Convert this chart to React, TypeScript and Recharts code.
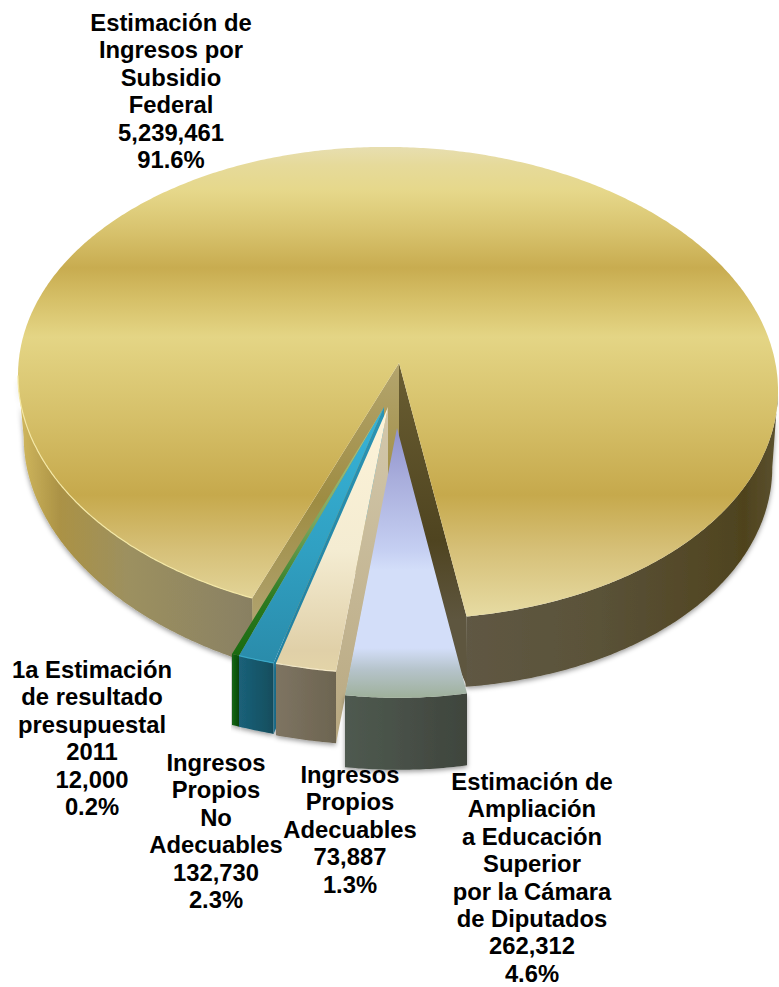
import React from "react";
import { PieChart, Pie } from "recharts";

// drawn counter-clockwise from the right side of the notch, so the front slices paint last
const names = [
  "Estimación de Ingresos por Subsidio Federal",
  "1a Estimación de resultado presupuestal 2011",
  "Ingresos Propios No Adecuables",
  "Ingresos Propios Adecuables",
  "Estimación de Ampliación a Educación Superior por la Cámara de Diputados",
];
const values = [5239461, 12000, 132730, 73887, 262312];
const percents = ["91.6%", "0.2%", "2.3%", "1.3%", "4.6%"];
const labelLines = [
  ["Estimación de", "Ingresos por", "Subsidio", "Federal"],
  ["1a Estimación", "de resultado", "presupuestal", "2011"],
  ["Ingresos", "Propios", "No", "Adecuables"],
  ["Ingresos", "Propios", "Adecuables"],
  ["Estimación de", "Ampliación", "a Educación", "Superior", "por la Cámara", "de Diputados"],
];

const data = names.map((name, i) => ({ name, value: values[i] }));

const CX = 398;
const CY = 383;
const RADIUS = 380;
const FONT = "'Liberation Sans', Arial, sans-serif";
const LINE_HEIGHT = 27.4;

// where each text block sits: centre x, first baseline
const labelPos = [
  { x: 171, y: 31 },
  { x: 92, y: 678 },
  { x: 216, y: 771 },
  { x: 350, y: 783 },
  { x: 532, y: 790 },
];

// fake 3D: every slice is the same sector squashed to an ellipse and pulled out a bit
const sliceStyle = [
  { dy: 0, sx: 1, sy: 0.621, ax: 1, ay: -20, depth: 69, apexDepth: 170, trimLo: 0, trimHi: -2.7, shear: 0.02, shearBottom: 0.04, bottomScale: 0.985, top: "goldTop", wall: "goldWall", wallLo: "goldInnerL", wallHi: "goldInnerR", rim: "#f4e8a6" },
  { dy: 69, sx: 1.053, sy: 0.584, ax: -14, ay: 24, depth: 71, apexDepth: 71, trimLo: 1.6, trimHi: 1.94, shear: 0, shearBottom: 0, bottomScale: 1, top: "greenTop", wall: "greenWall" },
  { dy: 69, sx: 1.053, sy: 0.584, ax: -14, ay: 24, depth: 71, apexDepth: 71, trimLo: 4.65, trimHi: 1.6, shear: 0, shearBottom: 0, bottomScale: 1, top: "tealTop", wall: "tealWall", wallLo: "tealInner", rim: "#38a8c8" },
  { dy: 69, sx: 1.053, sy: 0.584, ax: -10, ay: 24, depth: 72, apexDepth: 72, trimLo: 0.1, trimHi: 4.3, shear: 0, shearBottom: 0, bottomScale: 1, top: "creamTop", wall: "creamWall", wallLo: "creamInner", rim: "#f5e9c8" },
  { dy: 15, sx: 1.053, sy: 0.789, ax: -1, ay: 45, depth: 72, apexDepth: 72, trimLo: -2.23, trimHi: -1.2, shear: 0, shearBottom: 0, bottomScale: 1, top: "lavTop", wall: "lavWall" },
];

const gradients = [
  { id: "goldTop", axis: "y", from: 147, to: 618, stops: [[147, "#e7deb0"], [165, "#e6da9a"], [190, "#e6d88b"], [230, "#d8c36e"], [268, "#c8ac50"], [300, "#d6c068"], [337, "#e4d585"], [420, "#d5bf68"], [495, "#c6a94c"], [550, "#d6c078"], [618, "#e7dca4"]] },
  { id: "goldWall", axis: "x", from: 18, to: 779, stops: [[18, "#d2b95f"], [60, "#ab9245"], [130, "#9c9060"], [240, "#8b8263"], [440, "#605946"], [600, "#5a5238"], [745, "#4f431e"], [779, "#5c5230"]] },
  { id: "goldInnerL", axis: "y", from: 363, to: 670, stops: [[363, "#b4a56e"], [500, "#9e8c42"], [640, "#b3a675"]] },
  { id: "goldInnerR", axis: "y", from: 363, to: 685, stops: [[363, "#6a5e32"], [540, "#4f4420"], [620, "#5e563f"]] },
  { id: "greenTop", axis: "y", from: 407, to: 655, stops: [[407, "#b8c888"], [520, "#7aa860"], [600, "#2c7a20"], [655, "#1a6a10"]] },
  { id: "greenWall", axis: "x", from: 232, to: 240, stops: [[232, "#136313"], [240, "#0d500d"]] },
  { id: "tealTop", axis: "y", from: 407, to: 660, stops: [[407, "#37b4d8"], [550, "#30a0c2"], [660, "#2a8cab"]] },
  { id: "tealWall", axis: "x", from: 240, to: 273, stops: [[240, "#1a6078"], [273, "#154e5e"]] },
  { id: "tealInner", axis: "y", from: 407, to: 733, stops: [[407, "#2a94b4"], [733, "#1f7a9b"]] },
  { id: "creamTop", axis: "y", from: 407, to: 671, stops: [[407, "#fdf3d8"], [550, "#f4ecd2"], [650, "#e0d0a8"], [671, "#e3d4a8"]] },
  { id: "creamWall", axis: "x", from: 276, to: 337, stops: [[276, "#7e7462"], [337, "#6c6450"]] },
  { id: "creamInner", axis: "y", from: 407, to: 743, stops: [[407, "#d3c8ac"], [743, "#b8a880"]] },
  { id: "lavTop", axis: "y", from: 428, to: 698, stops: [[428, "#8f92cc"], [480, "#a9aedc"], [550, "#c5cff2"], [570, "#d3def9"], [648, "#d3def9"], [670, "#b5c3ca"], [698, "#9eb09a"]] },
  { id: "lavWall", axis: "x", from: 345, to: 467, stops: [[345, "#4f5a50"], [467, "#3f453d"]] },
];

const rad = (d: number) => (d * Math.PI) / 180;

// c is a clock angle: 0 at the top, growing clockwise
function ringPoints(cx: number, cy: number, rx: number, ry: number, shear: number, lo: number, hi: number) {
  const pts: string[] = [];
  const n = Math.max(2, Math.ceil((hi - lo) * 2));
  for (let i = 0; i <= n; i++) {
    const c = lo + ((hi - lo) * i) / n;
    const dx = rx * Math.sin(rad(c));
    pts.push(`${(cx + dx).toFixed(1)},${(cy - ry * Math.cos(rad(c)) + shear * dx).toFixed(1)}`);
  }
  return pts;
}

// parts of [lo, hi] on the near side of the ellipse
function frontRanges(lo: number, hi: number) {
  const out: [number, number][] = [];
  for (const k of [-720, -360, 0, 360]) {
    const a = Math.max(lo, 90 + k);
    const b = Math.min(hi, 270 + k);
    if (b > a) out.push([a, b]);
  }
  return out;
}

function Slice3D(props: any) {
  const { cx, cy, outerRadius, startAngle, endAngle, payload, name } = props;
  const key = payload?.name ?? name;
  const s = sliceStyle[names.indexOf(key)];
  const lo = 90 - endAngle + s.trimLo;
  const hi = 90 - startAngle + s.trimHi;
  const rx = outerRadius * s.sx;
  const ry = outerRadius * s.sy;
  const y0 = cy + s.dy;
  const apex = `${cx + s.ax},${cy + s.ay}`;
  const apexLow = `${cx + s.ax},${cy + s.ay + s.apexDepth}`;
  const rim = ringPoints(cx, y0, rx, ry, s.shear, lo, hi);
  const first = rim[0];
  const last = rim[rim.length - 1];
  const low = (c: number) =>
    ringPoints(cx, y0, rx, ry, s.shear, c, c).map((p) => {
      const [x, y] = p.split(",").map(Number);
      return `${x},${y + s.depth}`;
    })[0];

  return (
    <g>
      {frontRanges(lo, hi).map(([a, b], i) => {
        const top = ringPoints(cx, y0, rx, ry, s.shear, a, b);
        const bottom = ringPoints(cx, y0 + s.depth, rx * s.bottomScale, ry, s.shearBottom, a, b).reverse();
        return <polygon key={i} points={[...top, ...bottom].join(" ")} fill={`url(#${s.wall})`} filter="url(#dropShade)" />;
      })}
      {s.wallLo && <polygon points={`${apex} ${first} ${low(lo)} ${apexLow}`} fill={`url(#${s.wallLo})`} />}
      {s.wallHi && <polygon points={`${apex} ${last} ${low(hi)} ${apexLow}`} fill={`url(#${s.wallHi})`} />}
      <polygon points={`${apex} ${rim.join(" ")}`} fill={`url(#${s.top})`} />
      {s.rim &&
        frontRanges(lo, hi)
          .filter(([a, b]) => Math.sin(rad((a + b) / 2)) < 0)
          .map(([a, b], i) => (
            <polyline key={i} points={ringPoints(cx, y0, rx, ry, s.shear, a, b).join(" ")} fill="none" stroke={s.rim} strokeWidth={1.2} />
          ))}
    </g>
  );
}

function SliceLabel(props: any) {
  const i = props.index;
  const pos = labelPos[i];
  const lines = [...labelLines[i], values[i].toLocaleString("en-US"), percents[i]];
  return (
    <text x={pos.x} y={pos.y} textAnchor="middle" fontFamily={FONT} fontWeight="bold" fontSize={23.8} fill="#000">
      {lines.map((line, n) => (
        <tspan key={n} x={pos.x} y={pos.y + n * LINE_HEIGHT}>
          {line}
        </tspan>
      ))}
    </text>
  );
}

export default function App() {
  return (
    <div style={{ position: "absolute", left: 0, top: 0, width: 779, height: 987 }}>
      <PieChart width={779} height={987} margin={{ top: 0, right: 0, bottom: 0, left: 0 }}>
        <defs>
          {gradients.map((g) => (
            <linearGradient
              key={g.id}
              id={g.id}
              gradientUnits="userSpaceOnUse"
              x1={g.axis === "x" ? g.from : 0}
              x2={g.axis === "x" ? g.to : 0}
              y1={g.axis === "y" ? g.from : 0}
              y2={g.axis === "y" ? g.to : 0}
            >
              {g.stops.map(([p, c]) => (
                <stop key={p as number} offset={((p as number) - g.from) / (g.to - g.from)} stopColor={c as string} />
              ))}
            </linearGradient>
          ))}
          <filter id="dropShade" x="-10%" y="-10%" width="120%" height="125%">
            <feDropShadow dx={0} dy={2} stdDeviation={2.5} floodColor="#000" floodOpacity={0.4} />
          </filter>
        </defs>
        <Pie
          data={data}
          dataKey="value"
          nameKey="name"
          cx={CX}
          cy={CY}
          innerRadius={0}
          outerRadius={RADIUS}
          startAngle={-82.3}
          endAngle={277.7}
          stroke="none"
          shape={Slice3D}
          label={SliceLabel}
          labelLine={false}
          isAnimationActive={false}
        />
      </PieChart>
    </div>
  );
}
